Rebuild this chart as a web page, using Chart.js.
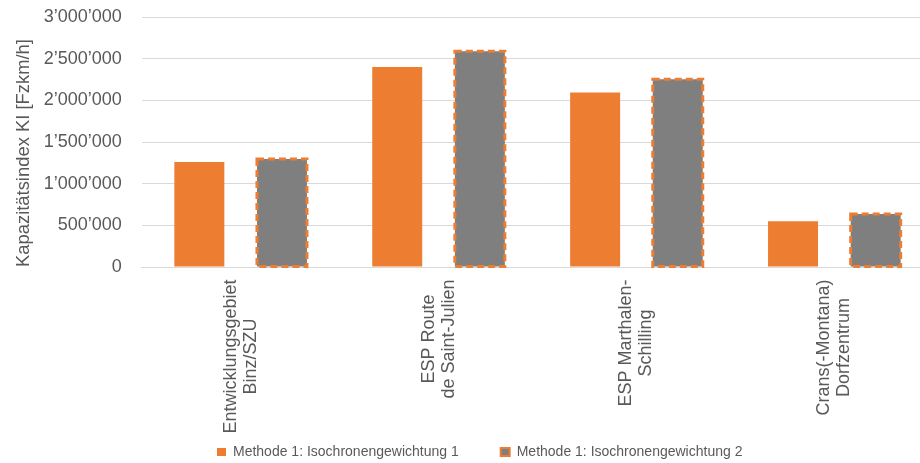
<!DOCTYPE html>
<html>
<head>
<meta charset="utf-8">
<script src="https://cdn.jsdelivr.net/npm/chart.js@4.4.1/dist/chart.umd.min.js"></script>
<style>
  html, body { margin: 0; padding: 0; background: #ffffff; overflow: hidden; }
  #wrap { position: relative; width: 940px; height: 463px; }
</style>
</head>
<body>
<div id="wrap"><canvas id="c"></canvas></div>
<script>
// ---- data ----
const categories = [
  ["Entwicklungsgebiet", "Binz/SZU"],
  ["ESP Route", "de Saint-Julien"],
  ["ESP Marthalen-", "Schilling"],
  ["Crans(-Montana)", "Dorfzentrum"]
];
const seriesNames = ["Methode 1: Isochronengewichtung 1", "Methode 1: Isochronengewichtung 2"];
const series1 = [1260000, 2400000, 2095000, 548000];
const series2 = [1296000, 2590000, 2252000, 636000];
const yTicks = [0, 500000, 1000000, 1500000, 2000000, 2500000, 3000000];
const yTitle = "Kapazitätsindex KI [Fzkm/h]";

const ORANGE = '#ED7D31';
const GREY = '#7F7F7F';
const TEXT = '#595959';
const GRID = '#D9D9D9';
const FONT = '"Liberation Sans", Arial, sans-serif';

Chart.defaults.font.family = FONT;
Chart.defaults.color = TEXT;

function fmt(v) {
  return String(v).replace(/\B(?=(\d{3})+(?!\d))/g, '\u2019');
}

// dashed orange outline for the second series (Chart.js bars have no borderDash)
const dashedBorder = {
  id: 'dashedBorder',
  afterDatasetsDraw(chart) {
    const meta = chart.getDatasetMeta(1);
    const ctx = chart.ctx;
    ctx.save();
    ctx.strokeStyle = ORANGE;
    ctx.lineWidth = 3;
    ctx.setLineDash([7, 4]);
    meta.data.forEach(bar => {
      const p = bar.getProps(['x', 'y', 'base', 'width'], true);
      ctx.strokeRect(p.x - p.width / 2, p.y, p.width, p.base - p.y);
    });
    ctx.restore();
  }
};

// category labels: rotated, lines centred on each other (as in the original)
const xLabels = {
  id: 'xLabels',
  afterDraw(chart) {
    const sc = chart.scales.x;
    const ctx = chart.ctx;
    const lineH = 20;
    ctx.save();
    ctx.font = '18px ' + FONT;
    ctx.fillStyle = TEXT;
    ctx.textAlign = 'center';
    ctx.textBaseline = 'middle';
    categories.forEach((lines, i) => {
      const x = sc.getPixelForValue(i);
      const maxW = Math.max(...lines.map(l => ctx.measureText(l).width));
      const cy = sc.top + 12.5 + maxW / 2;
      lines.forEach((line, j) => {
        ctx.save();
        ctx.translate(x + (j - (lines.length - 1) / 2) * lineH, cy);
        ctx.rotate(-Math.PI / 2);
        ctx.fillText(line, 0, 0);
        ctx.restore();
      });
    });
    ctx.restore();
  }
};

const legendPlace = {
  id: 'legendPlace',
  beforeDraw(chart) {
    const lg = chart.legend;
    if (!lg || !lg.legendHitBoxes || !lg.legendHitBoxes.length) return;
    const dx = 217 - lg.legendHitBoxes[0].left;
    lg.left += dx; lg.right += dx;
    lg.legendHitBoxes.forEach(h => { h.left += dx; });
    const pad = lg.options.labels.padding;
    const dy = 452 - (lg.top + pad + 7);
    lg.top += dy; lg.bottom += dy;
    lg.legendHitBoxes.forEach(h => { h.top += dy; });
  }
};

new Chart(document.getElementById('c'), {
  type: 'bar',
  data: {
    labels: categories,
    datasets: [
      { label: seriesNames[0], data: series1, backgroundColor: ORANGE, borderWidth: 0 },
      { label: seriesNames[1], data: series2, backgroundColor: GREY, borderWidth: 0 }
    ]
  },
  options: {
    responsive: true,
    maintainAspectRatio: false,
    animation: false,
    devicePixelRatio: 1,
    datasets: { bar: { categoryPercentage: 0.835, barPercentage: 0.605 } },
    layout: { padding: { top: 17, right: 6.7, bottom: 0, left: 0 } },
    plugins: {
      tooltip: { enabled: false },
      legend: {
        position: 'bottom',
        labels: {
          boxWidth: 9, boxHeight: 8, padding: 42,
          font: { size: 14, lineHeight: 1 },
          color: TEXT,
          generateLabels(chart) {
            const items = Chart.defaults.plugins.legend.labels.generateLabels(chart);
            if (items[1]) { items[1].strokeStyle = ORANGE; items[1].lineWidth = 2; }
            if (items[0]) { items[0].lineWidth = 0; }
            return items;
          }
        }
      }
    },
    scales: {
      x: {
        grid: { display: false },
        border: { display: true, color: GRID },
        ticks: { display: false },
        afterFit(scale) { scale.height = 130; }
      },
      y: {
        min: 0, max: 3000000,
        afterBuildTicks(scale) { scale.ticks = yTicks.map(v => ({ value: v })); },
        grid: { color: GRID, drawTicks: false },
        border: { display: false },
        ticks: { padding: 20, font: { size: 18 }, color: TEXT, callback: v => fmt(v) },
        title: { display: true, text: yTitle, align: 'start', color: TEXT, font: { size: 18.4, lineHeight: 1.2 }, padding: { top: 13, bottom: 0 } },
        afterFit(scale) { scale.width = 141.7; scale.paddingTop = 0; scale.paddingBottom = 0; }
      }
    }
  },
  plugins: [dashedBorder, xLabels, legendPlace]
});
</script>
</body>
</html>
